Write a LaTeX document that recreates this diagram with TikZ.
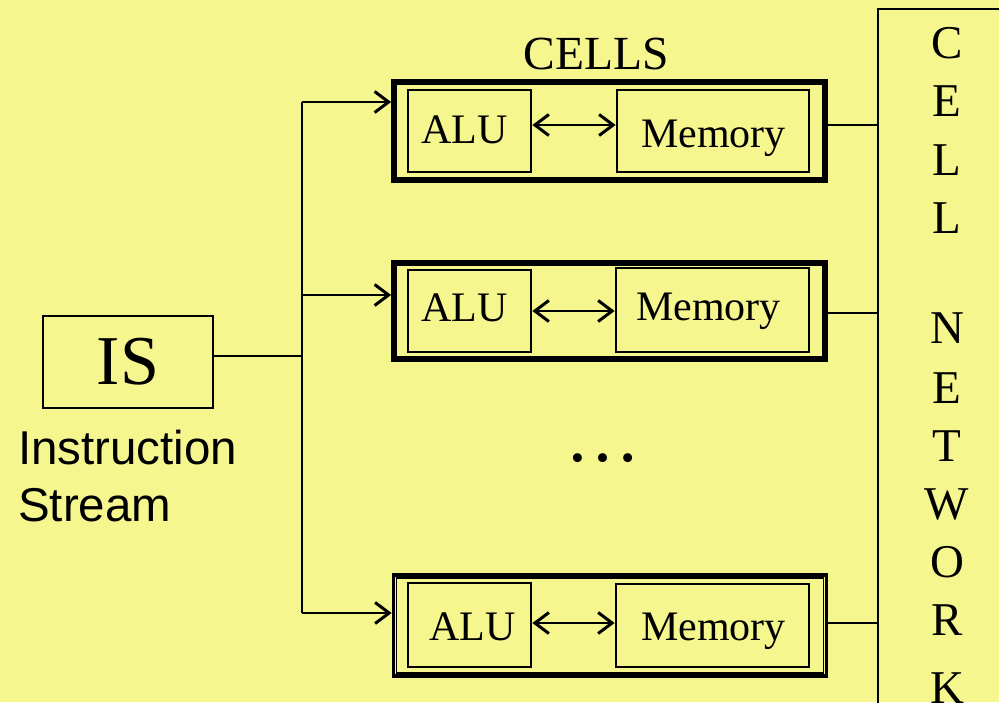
\documentclass[tikz,border=0pt]{standalone}
\usepackage{fontspec}
\setmainfont{Liberation Serif}
\newfontfamily\arialf{Liberation Sans}
\usetikzlibrary{arrows.meta,calc}
\definecolor{bgyellow}{RGB}{245,246,142}
\begin{document}
\begin{tikzpicture}[x=1pt,y=-1pt,
  conn/.style={line width=1.8pt},
  tipend/.style={-{Straight Barb[length=14pt,width=21pt,line width=3pt]}},
  tipboth/.style={{Straight Barb[length=14pt,width=21pt,line width=3pt]}-{Straight Barb[length=14pt,width=21pt,line width=3pt]}},
  unit/.style={draw,line width=2.8pt,inner sep=0pt},
  utext/.style={anchor=base west,inner sep=0pt,font=\fontsize{42}{50}\selectfont},
  cellbox/.style={draw,line width=3.8pt,inner sep=0pt,minimum width=433pt},
  cellinner/.style={line width=1.3pt},
  letter/.style={anchor=base,font=\fontsize{47}{56}\selectfont,inner sep=0pt}]
\fill[bgyellow] (0,0) rectangle (999,702);
\useasboundingbox (0,0) rectangle (999,702);
\clip (0,0) rectangle (999,702);

% Instruction stream box
\node[draw,line width=1.6pt,minimum width=170pt,minimum height=92pt,inner sep=0pt,
      font=\fontsize{70}{84}\selectfont] (is) at (128,362) {IS};
\node[anchor=base west,inner sep=0pt,font=\arialf\fontsize{47.5}{56}\selectfont] (instr) at (18,464) {Instruction};
\node[anchor=base west,inner sep=0pt,font=\arialf\fontsize{47.5}{56}\selectfont] (stream) at (18,521) {Stream};

% CELLS title and dots
\node[anchor=base,inner sep=0pt,font=\fontsize{47.5}{56}\selectfont] (cellst) at (596,69) {CELLS};
\node[anchor=base,inner sep=0pt,font=\fontsize{75}{90}\selectfont] (dots) at (603,461) {…};

% cells
\node[cellbox,minimum height=100pt] (c1) at (609.5,131) {};
\node[cellbox,minimum height=98pt] (c2) at (609.5,311) {};
\node[cellbox,minimum height=101pt] (c3) at (610,625.5) {};
\foreach \c in {c1,c2,c3}{
  \draw[cellinner] ($(\c.north west)+(5,5)$) rectangle ($(\c.south east)+(-5,-5)$);
}

\node[unit,minimum width=123pt,minimum height=82pt] (a1) at (469.5,131) {};
\node[unit,minimum width=192pt,minimum height=82pt] (m1) at (713,131) {};
\node[unit,minimum width=123pt,minimum height=82pt] (a2) at (469.5,311) {};
\node[unit,minimum width=193pt,minimum height=84pt] (m2) at (712.5,310) {};
\node[unit,minimum width=123pt,minimum height=84pt] (a3) at (469.5,625) {};
\node[unit,minimum width=193pt,minimum height=83pt] (m3) at (712.5,625.5) {};

\node[utext] (a1t) at (421,143) {ALU};
\node[utext] (m1t) at (641,147) {Memory};
\node[utext] (a2t) at (421,321) {ALU};
\node[utext] (m2t) at (636,320) {Memory};
\node[utext] (a3t) at (429,640) {ALU};
\node[utext] (m3t) at (641,640) {Memory};

% ALU <-> Memory
\coordinate (h1) at (570,125);
\coordinate (h2) at (570,311);
\coordinate (h3) at (570,623);
\draw[conn,tipboth] (h1 -| a1.east) -- (h1 -| m1.west);
\draw[conn,tipboth] (h2 -| a2.east) -- (h2 -| m2.west);
\draw[conn,tipboth] (h3 -| a3.east) -- (h3 -| m3.west);

% instruction distribution
\coordinate (t1) at (302,102);
\coordinate (t2) at (302,295);
\coordinate (t3) at (302,613);
\coordinate (tj) at (302,356);
\draw[conn] (t1) -- (t3);
\draw[conn] (tj -| is.east) -- (tj);
\draw[conn,tipend] (t1) -- (t1 -| c1.west);
\draw[conn,tipend] (t2) -- (t2 -| c2.west);
\draw[conn,tipend] (t3) -- (t3 -| c3.west);

% cell network
\node[draw,line width=1.6pt,minimum width=142pt,minimum height=711pt,inner sep=0pt] (net) at (949,364.5) {};
\coordinate (r1) at (878,125);
\coordinate (r2) at (878,313);
\coordinate (r3) at (878,623);
\draw[conn] (r1 -| c1.east) -- (r1 -| net.west);
\draw[conn] (r2 -| c2.east) -- (r2 -| net.west);
\draw[conn] (r3 -| c3.east) -- (r3 -| net.west);

\node[letter] (l1) at (947,58) {C};
\node[letter] (l2) at (947,116) {E};
\node[letter] (l3) at (947,175) {L};
\node[letter] (l4) at (947,233) {L};
\node[letter] (l5) at (947,343) {N};
\node[letter] (l6) at (947,403) {E};
\node[letter] (l7) at (947,461) {T};
\node[letter] (l8) at (947,519) {W};
\node[letter] (l9) at (947,577) {O};
\node[letter] (l10) at (947,635) {R};
\node[letter] (l11) at (947,703) {K};
\end{tikzpicture}
\end{document}
